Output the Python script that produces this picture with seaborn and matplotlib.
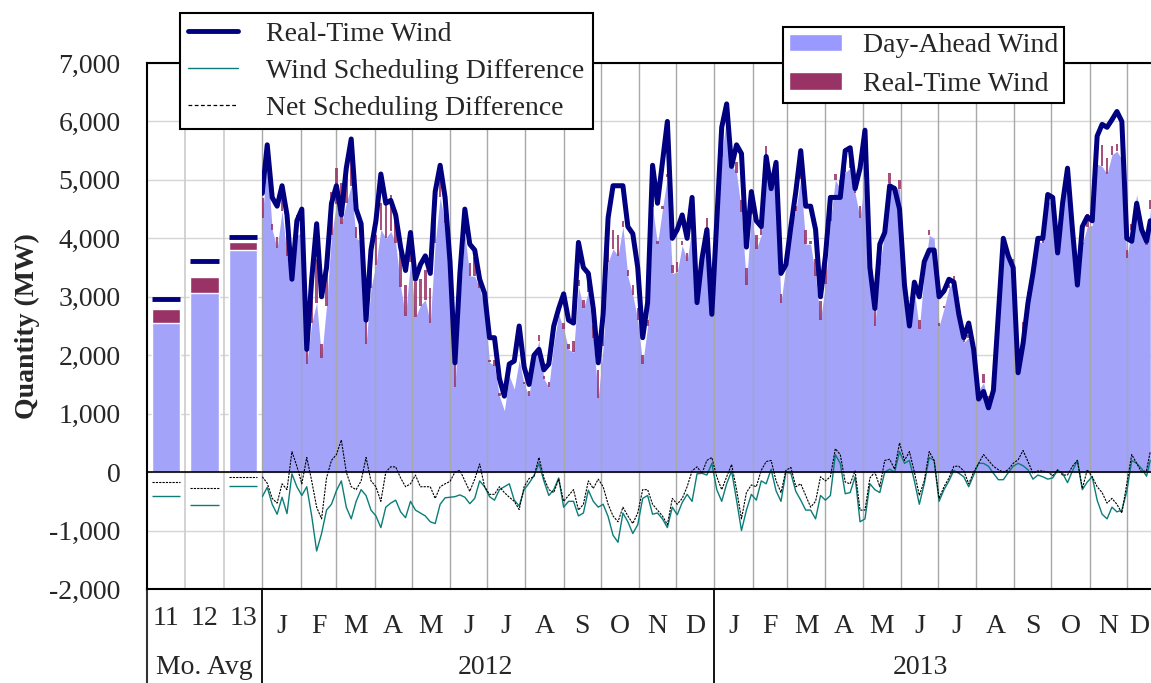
import numpy as np
import pandas as pd
import matplotlib
matplotlib.use('Agg')
import matplotlib.pyplot as plt
import matplotlib.dates as mdates
import matplotlib.transforms as mtransforms
from matplotlib.lines import Line2D
from matplotlib.patches import Patch
from matplotlib.ticker import FuncFormatter
import seaborn as sns

# ---- monthly averages (left block) ----
avg_labels = ['11', '12', '13']
avg_rt = [2960, 3620, 4030]
avg_wind_diff = [-405, -560, -230]
avg_net_diff = [-175, -275, -90]

# ---- daily wind, read every 4 days from 2012-01-01 (last point 2013-12-20) ----
dates = pd.date_range('2012-01-01', '2013-12-17', freq='4D').append(pd.DatetimeIndex(['2013-12-20']))

rt = [
    4770, 5600, 4700, 4550, 4900, 4400, 3300, 4300, 4500, 2100,
    3300, 4250, 3000, 3500, 4600, 4900, 4400, 5200, 5700, 4500,
    4250, 2600, 3800, 4300, 5100, 4600, 4650, 4400, 3850, 3450,
    4100, 3300, 3550, 3700, 3400, 4800, 5250, 4700, 3600, 1870,
    3400, 4500, 3900, 3800, 3300, 3060, 2300, 2300, 1600, 1300,
    1850, 1900, 2500, 1800, 1500, 2000, 2100, 1750, 1850, 2500,
    2800, 3050, 2600, 2550, 3930, 3500, 3400, 2800, 1870, 2700,
    4350, 4900, 4900, 4900, 4200, 4080, 3500, 2300, 2900, 5250,
    4600, 5300, 6000, 4000, 4150, 4400, 4000, 4700, 2900, 3650,
    4150, 2700, 4300, 5900, 6300, 5230, 5600, 5450, 3850, 4800,
    4300, 4200, 5400, 4850, 5300, 3400, 3550, 4200, 4800, 5500,
    4550, 4550, 4150, 3000, 3700, 4700, 4700, 4700, 5500, 5550,
    4850, 5200, 5850, 3500, 2800, 3900, 4100, 4900, 4850, 4500,
    3200, 2500, 3250, 3000, 3600, 3800, 3800, 3000, 3100, 3300,
    3250, 2700, 2300, 2550, 2100, 1250, 1380, 1100, 1400, 2700,
    4000, 3700, 3500, 1700, 2200, 2900, 3400, 4000, 4000, 4750,
    4700, 3750, 4600, 5200, 4150, 3200, 4200, 4370, 4300, 5750,
    5950, 5900, 6030, 6170, 6000, 4000, 3950, 4600, 4150, 3950,
    4300,
]

wind_diff = [
    -420, -260, -550, -720, -430, -710, -30, -250, -400, -250,
    -750, -1350, -1050, -650, -550, -320, -150, -600, -800, -500,
    -300, -400, -650, -750, -950, -600, -530, -480, -680, -780,
    -500, -650, -700, -750, -850, -880, -550, -440, -430, -420,
    -390, -430, -540, -450, -150, -250, -420, -480, -300, -250,
    -200, -480, -580, -300, -190, -60, 150, -150, -400, -300,
    -100, -600, -500, -500, -750, -700, -310, -500, -600, -550,
    -760, -1080, -1200, -700, -850, -1050, -900, -450, -400, -720,
    -700, -800, -950, -600, -730, -520, -380, -500, -30, -20,
    -50, 150, -300, -500, -200, 20, -480, -1000, -650, -380,
    -480, -150, -200, 50, -320, -500, 0, -20, -330, -480,
    -650, -650, -800, -400, -480, -400, 300, 150, -370, -350,
    -80, -850, -800, -200, -300, -350, 0, 50, 0, 350,
    150, 200, -150, -550, -200, 250, 200, -500, -300, -150,
    30, -20, -80, -250, -50, 150, 150, 100, -20, -130,
    -130, -10, 100, 150, 110, 40, -120, -50, -80, -120,
    -100, 30, -20, -180, 20, 200, -300, -170, -80, -480,
    -720, -800, -600, -680, -650, -330, 200, 150, 60, -70,
    200,
]

net_diff = [
    -80, -190, -450, -530, -200, -300, 350, 100, -200, 250,
    -150, -600, -800, -100, 200, 300, 550, 0, -250, -300,
    -150, 250, -150, -250, -500, 0, 90, 90, -100, -250,
    -200, -50, -250, -250, -250, -450, -250, -200, -160, 0,
    30, -150, -330, -120, 140, -250, -380, -380, -250, -350,
    -430, -500, -640, -250, -110, -80, 250, -100, -300, -350,
    -120, -500, -400, -300, -650, -550, -150, -280, -120, -250,
    -550, -750, -850, -600, -750, -880, -700, -300, -300, -550,
    -650, -750, -900, -450, -550, -450, -250, 20, 90, -20,
    200, 250, -80, -300, -80, 130, -300, -800, -350, -220,
    -250, 30, 180, 200, -150, -350, 30, 80, -250, -200,
    -400, -600, -500, -80, -150, -80, 400, 300, -170, -200,
    20, -650, -650, -100, 0, -250, 200, 220, 50, 500,
    200, 350, 0, -400, -150, 350, 200, -450, -250, -100,
    100, 100, 20, -200, 0, 150, 300, 200, 100, 40,
    0, 40, 150, 210, 370, 180, -20, 20, 20, 0,
    -60, 40, -50, -50, 100, 200, -280, 40, -80, -250,
    -350, -530, -450, -550, -700, -200, 300, 150, 0, 30,
    350,
]

month_letters = ['J', 'F', 'M', 'A', 'M', 'J', 'J', 'A', 'S', 'O', 'N', 'D'] * 2
year_labels = ['2012', '2013']
year_label_dates = ['2012-06-30', '2013-06-17']

NAVY = '#000080'
TEAL = '#0b7d78'
MAROON = '#993366'
DA_COL = '#a3a3fa'

sns.set_style('white')
plt.rcParams['font.family'] = ['Liberation Serif', 'DejaVu Serif']
plt.rcParams['font.size'] = 20

W, H = 1151, 683
fig = plt.figure(figsize=(W / 100, H / 100), dpi=100)


def box(x0, y0, x1, y1):
    return [x0 / W, 1 - y1 / H, (x1 - x0) / W, (y1 - y0) / H]


ax_avg = fig.add_axes(box(147, 63, 262.3, 589))
ax_ts = fig.add_axes(box(262.3, 63, 1151, 589), sharey=ax_avg)

# ---- left block: monthly averages ----
df_avg = pd.DataFrame({'month': avg_labels,
                       'da': np.add(avg_rt, avg_wind_diff),
                       'rt_sched': np.add(avg_rt, avg_net_diff)})
sns.barplot(data=df_avg, x='month', y='rt_sched', color=MAROON, saturation=1,
            width=0.74, ax=ax_avg, zorder=2)
sns.barplot(data=df_avg, x='month', y='da', color=DA_COL, saturation=1,
            width=0.74, ax=ax_avg, zorder=3)
pos = np.arange(len(avg_labels))
ax_avg.hlines(avg_rt, pos - 0.37, pos + 0.37, color=NAVY, lw=3.5, zorder=5)
ax_avg.hlines(avg_wind_diff, pos - 0.37, pos + 0.37, color=TEAL, lw=1.0, zorder=5)
ax_avg.hlines(avg_net_diff, pos - 0.37, pos + 0.37, color='black', lw=0.8,
              linestyles=(0, (2, 1)), zorder=5)
ax_avg.set_xlim(-0.5, 2.5)
for xv in [0.5, 1.5]:
    ax_avg.axvline(xv, color='#cccccc', lw=1.2, zorder=1)

# ---- daily time series ----
ts = pd.DataFrame({'date': dates, 'rt': rt, 'wind': wind_diff, 'net': net_diff})
ts['da'] = ts['rt'] + ts['wind']
ts['rt_sched'] = ts['rt'] + ts['net']

ax_ts.fill_between(ts['date'], 0, ts['da'], color=DA_COL, lw=0, zorder=2)
ax_ts.bar(ts['date'], (ts['rt_sched'] - ts['da']).clip(lower=0), bottom=ts['da'],
          width=2.0, color=MAROON, lw=0, alpha=0.85, zorder=3)
sns.lineplot(data=ts, x='date', y='wind', color=TEAL, lw=1.0, estimator=None,
             ax=ax_ts, zorder=4)
sns.lineplot(data=ts, x='date', y='net', color='black', lw=0.8, estimator=None,
             linestyle=(0, (2, 1)), ax=ax_ts, zorder=4)
sns.lineplot(data=ts, x='date', y='rt', color=NAVY, lw=3.6, estimator=None,
             ax=ax_ts, zorder=6)

x0 = pd.Timestamp('2012-01-01')
x1 = x0 + pd.Timedelta(days=719.6)
ax_ts.set_xlim(x0, x1)

month_starts = pd.date_range('2012-01-01', '2013-12-01', freq='MS')
for m in month_starts:
    ax_ts.axvline(m, color='#a8a8a8', lw=1.0, zorder=2.5, clip_on=False)
mid = []
for i, m in enumerate(month_starts):
    end = month_starts[i + 1] if i + 1 < len(month_starts) else x1
    end = min(end, x1)
    mid.append(m + (end - m) / 2)
ax_ts.set_xticks(mid)
ax_ts.set_xticklabels(month_letters)
ax_ts.set_xlabel('')
ax_ts.set_ylabel('')

# ---- y axis ----
ax_avg.set_ylim(-2000, 7000)
ax_avg.set_yticks(range(-2000, 7001, 1000))
ax_avg.yaxis.set_major_formatter(FuncFormatter(lambda v, p: f'{v:,.0f}'))
ax_avg.set_xlabel('')
ax_avg.set_ylabel('Quantity (MW)', fontweight='bold', fontsize=20)
ax_avg.yaxis.set_label_coords(-0.93, 0.5)
ax_avg.tick_params(axis='y', length=0, pad=19, labelsize=20)
ax_avg.tick_params(axis='x', length=0, pad=12, labelsize=20)
ax_ts.tick_params(axis='y', left=False, labelleft=False)
ax_ts.tick_params(axis='x', length=0, pad=18, labelsize=20)

for ax in (ax_avg, ax_ts):
    ax.set_axisbelow(True)
    ax.grid(axis='y', color='#d6d6d6', lw=1.0)
    ax.grid(axis='x', visible=False)
    ax.axhline(0, color='black', lw=1.2, zorder=5.5)
    for side in ('top', 'bottom'):
        ax.spines[side].set_color('black')
        ax.spines[side].set_linewidth(1.5)
    ax.spines['right'].set_visible(False)
ax_ts.spines['left'].set_visible(False)
ax_avg.spines['left'].set_color('black')
ax_avg.spines['left'].set_linewidth(1.5)

# ---- category table below the axis ----
drop = (683 - 589) / 526
ax_avg.axvline(-0.5, ymin=-drop, ymax=0, color='#333333', lw=1.5, clip_on=False)
for d in ['2012-01-01', '2013-01-01']:
    ax_ts.axvline(pd.Timestamp(d), ymin=-drop, ymax=0, color='black', lw=1.3, clip_on=False)
ax_avg.text(0.5, -0.150, 'Mo. Avg', transform=ax_avg.transAxes, ha='center', va='center')
trans = mtransforms.blended_transform_factory(ax_ts.transData, ax_ts.transAxes)
for lab, d in zip(year_labels, year_label_dates):
    ax_ts.text(mdates.date2num(pd.Timestamp(d)), -0.150, lab, transform=trans,
               ha='center', va='center')

# ---- legends ----
line_handles = [Line2D([], [], color=NAVY, lw=3.5),
                Line2D([], [], color=TEAL, lw=1.0),
                Line2D([], [], color='black', lw=0.9, linestyle=(0, (3, 2)))]
leg1 = fig.legend(line_handles,
                  ['Real-Time Wind', 'Wind Scheduling Difference', 'Net Scheduling Difference'],
                  loc='upper left', bbox_to_anchor=(180 / W, 1 - 13 / H), frameon=True,
                  fancybox=False, edgecolor='black', framealpha=1, borderaxespad=0,
                  handlelength=1.8, handletextpad=1.0, labelspacing=0.42,
                  borderpad=0.3, fontsize=20)
leg1.get_frame().set_linewidth(1.5)

patch_handles = [Patch(facecolor='#9999ff'), Patch(facecolor=MAROON)]
leg2 = fig.legend(patch_handles, ['Day-Ahead Wind', 'Real-Time Wind'],
                  loc='upper left', bbox_to_anchor=(783 / W, 1 - 27 / H), frameon=True,
                  fancybox=False, edgecolor='black', framealpha=1, borderaxespad=0,
                  handlelength=1.9, handleheight=0.6, handletextpad=0.75,
                  labelspacing=0.5, borderpad=0.22, fontsize=20)
leg2.get_frame().set_linewidth(1.5)

fig.savefig('out.png', dpi=100)
